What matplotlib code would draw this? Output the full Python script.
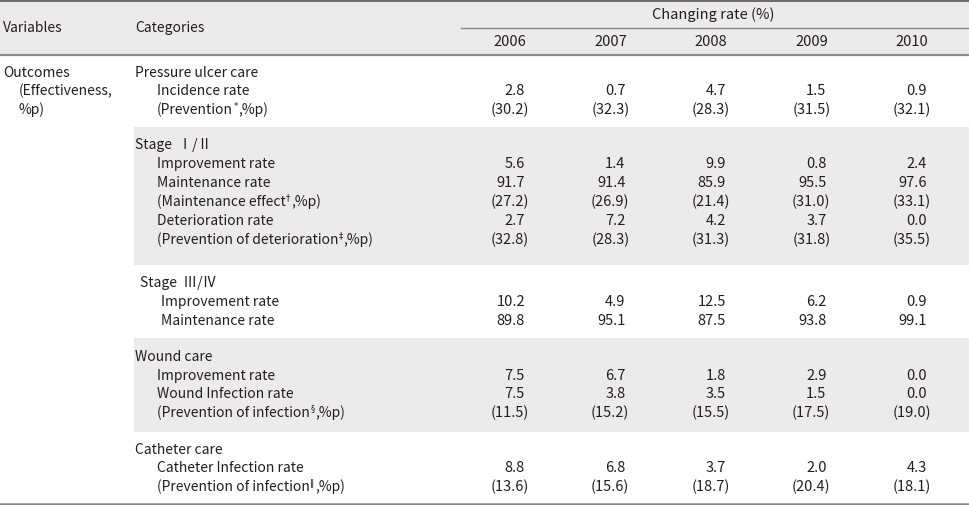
import matplotlib.pyplot as plt
import matplotlib.patches as mpatches

plt.rcParams['font.family'] = ['Noto Sans CJK KR', 'DejaVu Sans']

# data
years = ['2006', '2007', '2008', '2009', '2010']
incidence = [2.8, 0.7, 4.7, 1.5, 0.9]
prevention = [30.2, 32.3, 28.3, 31.5, 32.1]
s12_improve = [5.6, 1.4, 9.9, 0.8, 2.4]
s12_maint = [91.7, 91.4, 85.9, 95.5, 97.6]
s12_maint_eff = [27.2, 26.9, 21.4, 31.0, 33.1]
s12_deter = [2.7, 7.2, 4.2, 3.7, 0.0]
s12_prev_deter = [32.8, 28.3, 31.3, 31.8, 35.5]
s34_improve = [10.2, 4.9, 12.5, 6.2, 0.9]
s34_maint = [89.8, 95.1, 87.5, 93.8, 99.1]
wound_improve = [7.5, 6.7, 1.8, 2.9, 0.0]
wound_infect = [7.5, 3.8, 3.5, 1.5, 0.0]
wound_prev = [11.5, 15.2, 15.5, 17.5, 19.0]
cath_infect = [8.8, 6.8, 3.7, 2.0, 4.3]
cath_prev = [13.6, 15.6, 18.7, 20.4, 18.1]

W, H = 969, 505
fig = plt.figure(figsize=(W / 100, H / 100), dpi=100)
ax = fig.add_axes([0, 0, 1, 1])
ax.set_xlim(0, W)
ax.set_ylim(H, 0)
ax.axis('off')

TXT = '#231f20'
BAND = '#ebebeb'
LINE = '#8a8a8a'
FS = 10.0      # labels
FS_NUM = 10.5  # numbers, years
renderer = fig.canvas.get_renderer()

# header band and shaded groups
ax.add_patch(mpatches.Rectangle((0, 0), W, 55, color=BAND, lw=0))
ax.add_patch(mpatches.Rectangle((134, 127), W - 134, 138, color=BAND, lw=0))
ax.add_patch(mpatches.Rectangle((134, 338), W - 134, 94, color=BAND, lw=0))

ax.plot([0, W], [0.7, 0.7], color='#555555', lw=1.2)
ax.plot([461, W], [28, 28], color=LINE, lw=1.0)
ax.plot([0, W], [55, 55], color=LINE, lw=1.6)
ax.plot([0, W], [503.5, 503.5], color=LINE, lw=1.8)

val_right = [525, 625.5, 726, 826.5, 927]
year_x = [510, 611, 711, 812, 912]


def txt(x, y, s, size=FS, ha='left'):
    return ax.text(x, y, s, fontsize=size, color=TXT, ha=ha, va='center')


def label(x, y, parts):
    # parts: list of (text, superscript?)
    for s, sup in parts:
        if sup:
            t = ax.text(x + 0.5, y - 4, s, fontsize=6, color=TXT, ha='left',
                        va='center', family=['DejaVu Sans'])
            x = t.get_window_extent(renderer).x1 + 0.5
        else:
            t = txt(x, y, s)
            x = t.get_window_extent(renderer).x1


def values(y, vals, paren=False):
    for xr, v in zip(val_right, vals):
        if paren:
            txt(xr + 4, y, '(%.1f)' % v, size=FS_NUM, ha='right')
        else:
            txt(xr, y, '%.1f' % v, size=FS_NUM, ha='right')


# header
txt(3, 28, 'Variables')
txt(135, 28, 'Categories')
txt(713, 15, 'Changing rate (%)', size=FS_NUM, ha='center')
for x, yr in zip(year_x, years):
    txt(x, 42, yr, size=FS_NUM, ha='center')

# variables column
txt(3, 73, 'Outcomes')
txt(19, 91, '(Effectiveness,')
txt(19, 110, '%p)')

# pressure ulcer care
txt(135, 73, 'Pressure ulcer care')
txt(157, 91, 'Incidence rate')
values(91, incidence)
label(157, 110, [('(Prevention', False), ('*', True), (',%p)', False)])
values(110, prevention, paren=True)

# stage I/II
txt(135, 145, 'Stage  Ⅰ/Ⅱ')
txt(157, 164, 'Improvement rate')
values(164, s12_improve)
txt(157, 183, 'Maintenance rate')
values(183, s12_maint)
label(157, 202, [('(Maintenance effect', False), ('†', True), (',%p)', False)])
values(202, s12_maint_eff, paren=True)
txt(157, 221, 'Deterioration rate')
values(221, s12_deter)
label(157, 240, [('(Prevention of deterioration', False), ('‡', True), (',%p)', False)])
values(240, s12_prev_deter, paren=True)

# stage III/IV
txt(140, 283, 'Stage  Ⅲ/Ⅳ')
txt(161, 302, 'Improvement rate')
values(302, s34_improve)
txt(161, 321, 'Maintenance rate')
values(321, s34_maint)

# wound care
txt(135, 357, 'Wound care')
txt(157, 376, 'Improvement rate')
values(376, wound_improve)
txt(157, 394, 'Wound Infection rate')
values(394, wound_infect)
label(157, 413, [('(Prevention of infection', False), ('§', True), (',%p)', False)])
values(413, wound_prev, paren=True)

# catheter care
txt(135, 450, 'Catheter care')
txt(157, 468, 'Catheter Infection rate')
values(468, cath_infect)
label(157, 487, [('(Prevention of infection', False), ('‖', True), (',%p)', False)])
values(487, cath_prev, paren=True)

fig.savefig('out.png', dpi=100)
